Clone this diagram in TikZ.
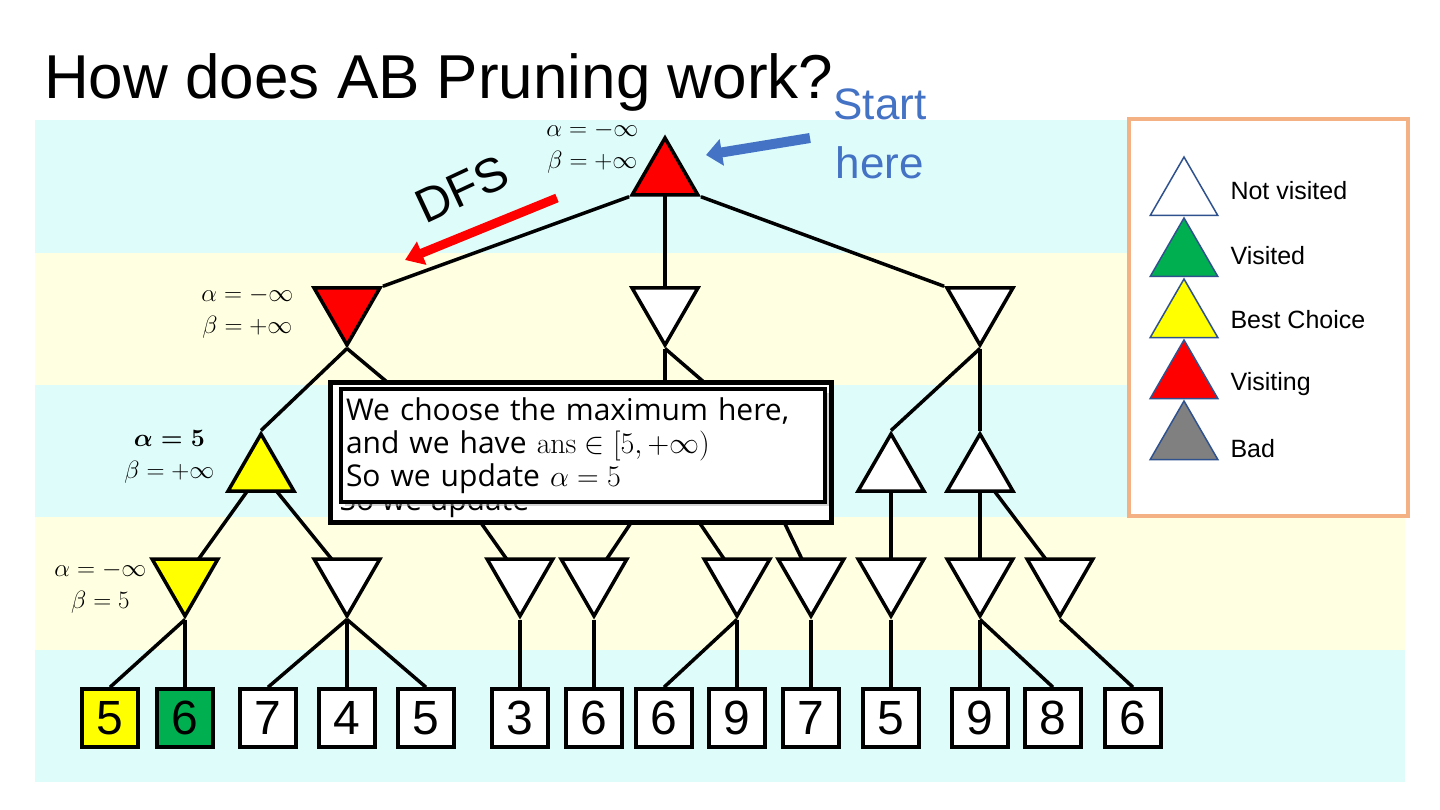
\RequirePackage{fix-cm}
\documentclass[tikz,border=0pt]{standalone}
\usepackage{amsmath}
\usepackage[no-math]{fontspec}
\setmainfont{Liberation Sans}
\newfontfamily\notefont{Open Sans}
\usepackage{tikz}
\usetikzlibrary{shapes.geometric, arrows.meta, shadows}
\definecolor{bandcyan}{RGB}{222,252,250}
\definecolor{bandyellow}{RGB}{255,255,225}
\definecolor{visitred}{RGB}{255,0,0}
\definecolor{bestyellow}{RGB}{255,255,0}
\definecolor{donegreen}{RGB}{0,176,80}
\definecolor{badgray}{RGB}{128,128,128}
\definecolor{keyline}{RGB}{47,82,143}
\definecolor{keyframe}{RGB}{244,177,131}
\definecolor{startblue}{RGB}{68,114,196}
\pgfdeclarelayer{bands}
\pgfdeclarelayer{links}
\pgfsetlayers{bands,links,main}
\tikzset{
  maxnode/.style={regular polygon, regular polygon sides=3, minimum size=76pt,
    inner sep=0pt, draw=black, line width=3.5pt, fill=white},
  minnode/.style={maxnode, shape border rotate=180},
  leaf/.style={draw=black, line width=3.5pt, fill=white, minimum width=56pt,
    minimum height=58pt, inner sep=0pt, font=\fontsize{48}{48}\selectfont},
  link/.style={line width=3.5pt},
  bound/.style={align=center, font=\fontsize{25}{32}\selectfont},
  keytri/.style={regular polygon, regular polygon sides=3, minimum size=78pt,
    inner sep=0pt, draw=keyline, line width=1.5pt},
  keytext/.style={anchor=west, font=\fontsize{25}{25}\selectfont}
}

\begin{document}
\begin{tikzpicture}[x=1pt, y=-1pt]
  \useasboundingbox (0,0) rectangle (1440,810);
  % Background bands
  \begin{pgfonlayer}{bands}
    \fill[white] (0,0) rectangle (1440,810);
    \fill[bandcyan] (35,120) rectangle (1405,253);
    \fill[bandyellow] (35,253) rectangle (1405,385);
    \fill[bandcyan] (35,385) rectangle (1405,517);
    \fill[bandyellow] (35,517) rectangle (1405,650);
    \fill[bandcyan] (35,650) rectangle (1405,782);
  \end{pgfonlayer}

  % Tree: root and first level
  \node[maxnode, fill=visitred] (root) at (665,176) {};
  \node[minnode, fill=visitred] (mA) at (347,307) {};
  \node[minnode] (mB) at (665,307) {};
  \node[minnode] (mC) at (980,307) {};
  % Second level
  \node[maxnode, fill=bestyellow] (xA1) at (261,472) {};
  \node[maxnode] (xA2) at (445,472) {};
  \node[maxnode] (xB1) at (665,472) {};
  \node[maxnode] (xB2) at (760,472) {};
  \node[maxnode] (xC1) at (891,472) {};
  \node[maxnode] (xC2) at (980,472) {};
  % Third level
  \node[minnode, fill=bestyellow] (nA) at (185,578) {};
  \foreach \name/\x in {nB/347, nC/520, nD/594, nE/737, nF/811, nG/891, nH/980, nI/1060}
    \node[minnode] (\name) at (\x,578) {};
  % Leaves
  \node[leaf, fill=bestyellow] (leaf1) at (110,718) {5};
  \node[leaf, fill=donegreen] (leaf2) at (185,718) {6};
  \foreach \i/\x/\v in {3/268/7, 4/347/4, 5/426/5, 6/520/3, 7/594/6, 8/664/6,
      9/737/9, 10/811/7, 11/891/5, 12/980/9, 13/1053/8, 14/1133/6}
    \node[leaf] (leaf\i) at (\x,718) {\v};

  % Connectors
  \begin{pgfonlayer}{links}
    \draw[link] (root.corner 2) -- (mA.corner 2);
    \draw[link] (root.center) -- (mB.center);
    \draw[link] (root.corner 3) -- (mC.corner 3);
    \foreach \a/\b in {mA/xA1, mA/xA2, mB/xB1, mB/xB2, mC/xC1, mC/xC2}
      \draw[link] (\a.corner 1) -- (\b.corner 1);
    \foreach \a/\b in {xA1/nA, xA1/nB, xA2/nC, xB1/nD, xB1/nE, xB2/nF, xC1/nG, xC2/nH, xC2/nI}
      \draw[link] (\a.center) -- (\b.center);
    \foreach \a/\b in {nA/1, nA/2, nB/3, nB/4, nB/5, nC/6, nD/7, nE/8, nE/9,
        nF/10, nG/11, nH/12, nH/13, nI/14}
      \draw[link] (\a.corner 1) -- (leaf\b.north);
  \end{pgfonlayer}

  % Bounds
  \node[bound, anchor=east] (rootab) at (642,148) {$\alpha=-\infty$\\$\beta=+\infty$};
  \node[bound, anchor=east] (mAab) at (297,313) {$\alpha=-\infty$\\$\beta=+\infty$};
  \node[bound, anchor=east] (xA1ab) at (218,457) {$\boldsymbol{\alpha=5}$\\$\beta=+\infty$};
  \node[bound, anchor=east] (nAab) at (150,588) {$\alpha=-\infty$\\$\beta=5$};

  % Note box
  \node[draw=black, line width=5pt, fill=white, minimum width=501pt,
    minimum height=140pt] (noteframe) at (580.5,452) {};
  \node[anchor=base west, font=\notefont\fontsize{30}{33}\selectfont] (ghost) at (336,510) {So we update};
  \node[draw=black, line width=4pt, fill=white, minimum width=484pt, minimum height=113pt,
    text width=474pt, align=left, inner sep=4pt,
    drop shadow={shadow xshift=4pt, shadow yshift=-4pt, fill=gray!70},
    font=\notefont\fontsize{30}{33}\selectfont] (note) at (583,445.5)
    {We choose the maximum here,\\and we have $\mathrm{ans}\in[5,+\infty)$\\So we update $\alpha=5$};

  % Legend
  \node[draw=keyframe, line width=4pt, fill=white, minimum width=279pt,
    minimum height=397pt] (key) at (1268.5,317.5) {};
  \foreach \c/\t [count=\i] in {white/Not visited, donegreen/Visited,
      bestyellow/Best Choice, visitred/Visiting, badgray/Bad} {
    \node[keytri, fill=\c] (tri\i) at (1184,135+61*\i) {};
    \node[keytext] (lab\i) at (1227,126.5+64.5*\i) {\t};
  }

  % Title and hints
  \node[anchor=base west, inner sep=0pt, font=\fontsize{62}{62}\selectfont] (title) at (44,99)
    {How does AB Pruning work?};
  \node[align=center, text=startblue, font=\fontsize{44}{59}\selectfont] (start) at (880,134)
    {Start\\here};
  \coordinate (starttail) at (810,138);
  \coordinate (starthead) at (706,155);
  \draw[startblue, line width=10pt, -{Triangle[length=16pt,width=26pt]}] (starttail) -- (starthead);
  \node[rotate=25, font=\fontsize{48}{48}\selectfont] (dfs) at (462,189) {DFS};
  \coordinate (dfstail) at (557,198);
  \coordinate (dfshead) at (405,260);
  \draw[visitred, line width=9pt, -{Triangle[length=18pt,width=24pt]}] (dfstail) -- (dfshead);
\end{tikzpicture}
\end{document}
